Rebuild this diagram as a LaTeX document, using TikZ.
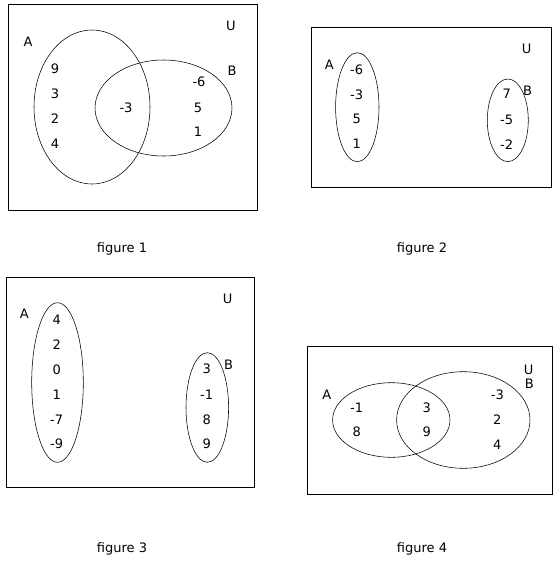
\documentclass[tikz,border=0pt]{standalone}
\usepackage{fontspec}
\setmainfont{DejaVu Sans}
\begin{document}
\begin{tikzpicture}[x=1pt,y=-1pt,
  lbl/.style={inner sep=0pt,font=\fontsize{13}{15}\selectfont},
  box/.style={draw=black,line width=0.8pt},
  set/.style={draw=black,line width=0.55pt}]
\useasboundingbox (0,0) rectangle (560,563);
% figure 1
\draw[box] (8,4) rectangle (257,210);
\draw[set] (92,107) ellipse [x radius=58,y radius=77];
\draw[set] (163.5,108) ellipse [x radius=68.5,y radius=48];
\node[lbl] (a1) at (28,42) {A};
\node[lbl] (u1) at (231,26) {U};
\node[lbl] (b1) at (232,71) {B};
\node[lbl] (f1n9) at (55,69) {9};
\node[lbl] (f1n3) at (55,94) {3};
\node[lbl] (f1n2) at (55,119) {2};
\node[lbl] (f1n4) at (55,144) {4};
\node[lbl] (f1m3) at (126,108) {-3};
\node[lbl] (f1m6) at (199,82) {-6};
\node[lbl] (f1n5) at (198,108) {5};
\node[lbl] (f1n1) at (198,132) {1};
\node[lbl] (cap1) at (122,249) {figure 1};
% figure 2
\draw[box] (311,27) rectangle (551,187);
\draw[set] (357.3,107.2) ellipse [x radius=21.7,y radius=54.5];
\draw[set] (507.8,120.3) ellipse [x radius=20.5,y radius=41.3];
\node[lbl] (a2) at (329.3,64.3) {A};
\node[lbl] (u2) at (526.7,49.3) {U};
\node[lbl] (b2) at (527.7,91) {B};
\node[lbl] (f2m6) at (356.7,70) {-6};
\node[lbl] (f2m3) at (356.7,95) {-3};
\node[lbl] (f2n5) at (356.7,119.3) {5};
\node[lbl] (f2n1) at (356.7,144) {1};
\node[lbl] (f2n7) at (506.7,94) {7};
\node[lbl] (f2m5) at (506.7,120) {-5};
\node[lbl] (f2m2) at (506.7,144.3) {-2};
\node[lbl] (cap2) at (422,249) {figure 2};
% figure 3
\draw[box] (6,277) rectangle (254,487);
\draw[set] (57.5,382.5) ellipse [x radius=25.8,y radius=79.8];
\draw[set] (207.3,407.5) ellipse [x radius=21.3,y radius=54.8];
\node[lbl] (a3) at (24.3,314) {A};
\node[lbl] (u3) at (227.7,299.3) {U};
\node[lbl] (b3) at (228.7,364.3) {B};
\node[lbl] (f3n4) at (56.7,319.3) {4};
\node[lbl] (f3n2) at (56.7,344.3) {2};
\node[lbl] (f3n0) at (56.7,369.3) {0};
\node[lbl] (f3n1) at (56.7,394.3) {1};
\node[lbl] (f3m7) at (56.7,419.3) {-7};
\node[lbl] (f3m9) at (56.7,444) {-9};
\node[lbl] (f3n3) at (206.7,369) {3};
\node[lbl] (f3m1) at (206.7,395) {-1};
\node[lbl] (f3n8) at (206.7,419.3) {8};
\node[lbl] (f3n9) at (206.7,443.3) {9};
\node[lbl] (cap3) at (122,549) {figure 3};
% figure 4
\draw[box] (307,346) rectangle (552,494);
\draw[set] (391.3,420) ellipse [x radius=58.7,y radius=37.3];
\draw[set] (463.3,420) ellipse [x radius=66.7,y radius=48.3];
\node[lbl] (a4) at (326.7,394.3) {A};
\node[lbl] (u4) at (528.7,370) {U};
\node[lbl] (b4) at (529.3,383.3) {B};
\node[lbl] (f4m1) at (356.7,407.7) {-1};
\node[lbl] (f4n8) at (356.7,431.7) {8};
\node[lbl] (f4n3) at (426.7,407.7) {3};
\node[lbl] (f4n9) at (426.7,431.7) {9};
\node[lbl] (f4m3) at (497.3,394.3) {-3};
\node[lbl] (f4n2) at (497.3,419.3) {2};
\node[lbl] (f4n4) at (497.3,444.3) {4};
\node[lbl] (cap4) at (422,549) {figure 4};
\end{tikzpicture}
\end{document}
